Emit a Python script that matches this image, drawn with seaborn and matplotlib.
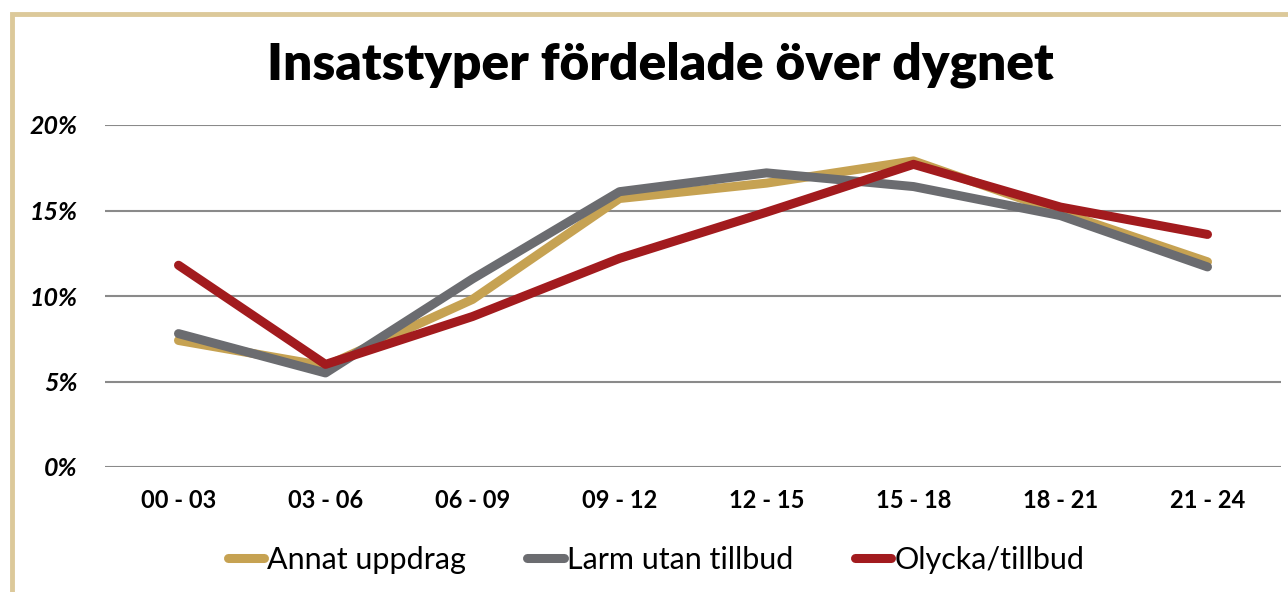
import matplotlib
matplotlib.use("Agg")
import matplotlib.pyplot as plt
import matplotlib.patches as mpatches
import seaborn as sns
import pandas as pd
from matplotlib.ticker import PercentFormatter

periods = ["00 - 03", "03 - 06", "06 - 09", "09 - 12", "12 - 15", "15 - 18", "18 - 21", "21 - 24"]
annat = [7.4, 5.9, 9.8, 15.7, 16.6, 17.9, 14.9, 12.0]
larm = [7.8, 5.5, 11.0, 16.1, 17.2, 16.4, 14.7, 11.7]
olycka = [11.8, 6.0, 8.8, 12.2, 14.9, 17.7, 15.2, 13.6]
series = ["Annat uppdrag", "Larm utan tillbud", "Olycka/tillbud"]
colors = ["#c6a252", "#6b6c70", "#a21b1e"]

df = pd.DataFrame({"period": periods * 3,
                   "andel": annat + larm + olycka,
                   "typ": [s for s in series for _ in periods]})

sns.set_theme(style="white")
plt.rcParams["font.family"] = ["Lato", "DejaVu Sans"]
plt.rcParams["text.color"] = "black"
plt.rcParams["xtick.color"] = "black"
plt.rcParams["ytick.color"] = "black"

fig = plt.figure(figsize=(12.88, 5.92), dpi=100)
ax = fig.add_axes([105 / 1288, 1 - 467 / 592, 1176 / 1288, 342 / 592])

sns.lineplot(data=df, x="period", y="andel", hue="typ", palette=colors,
             linewidth=6.5, sort=False, ax=ax, legend=True)
for ln in ax.lines:
    ln.set_solid_capstyle("round")
    ln.set_solid_joinstyle("round")

ax.set_xlim(-0.5, 7.5)
ax.set_ylim(0, 20)
ax.set_yticks([0, 5, 10, 15, 20])
ax.yaxis.set_major_formatter(PercentFormatter(decimals=0))
ax.yaxis.grid(True, color="#8a8a8a", linewidth=1.5)
ax.set_axisbelow(True)
for s in ax.spines.values():
    s.set_visible(False)
ax.set_xlabel("")
ax.set_ylabel("")
ax.tick_params(axis="both", length=0, colors="black")
ax.tick_params(axis="x", pad=16)
ax.tick_params(axis="y", pad=20)
for t in ax.get_xticklabels():
    t.set_fontsize(17)
    t.set_fontweight("bold")
for t in ax.get_yticklabels():
    t.set_fontsize(18)
    t.set_fontweight("bold")
    t.set_fontstyle("italic")

handles, labels = ax.get_legend_handles_labels()
leg = ax.legend(handles, labels, loc="center", bbox_to_anchor=(656 / 1288, 1 - 560 / 592),
                bbox_transform=fig.transFigure, ncol=3, frameon=False,
                prop={"size": 22, "weight": "normal"},
                handlelength=1.2, handletextpad=0.1, columnspacing=2.0)
for t in leg.get_texts():
    t.set_color("black")

fig.text(660 / 1288, 1 - 65 / 592, "Insatstyper fördelade över dygnet",
         ha="center", va="center", fontsize=37, fontweight="heavy", color="black")

fig.patches.append(mpatches.Rectangle((12 / 1288, -0.1), 1.2, 1 - 14 / 592 + 0.1,
                                      transform=fig.transFigure, fill=False,
                                      edgecolor="#dcc99a", linewidth=3.5))

fig.savefig("out.png", dpi=100)
